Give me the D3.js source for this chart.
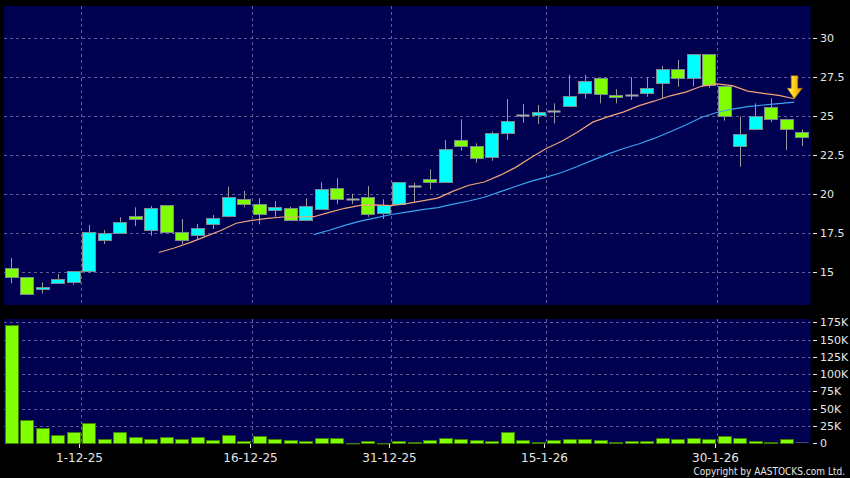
<!DOCTYPE html>
<html><head><meta charset="utf-8">
<script src="https://cdn.jsdelivr.net/npm/d3@7"></script>
<style>html,body{margin:0;padding:0;background:#000;}svg{display:block}</style>
</head><body><svg id="c" width="850" height="478"></svg>
<script>
// ---- data ----
const dates = [
  "2025-11-24","2025-11-25","2025-11-26","2025-11-27","2025-11-28",
  "2025-12-01","2025-12-02","2025-12-03","2025-12-04","2025-12-05",
  "2025-12-08","2025-12-09","2025-12-10","2025-12-11","2025-12-12",
  "2025-12-15","2025-12-16","2025-12-17","2025-12-18","2025-12-19",
  "2025-12-22","2025-12-23","2025-12-24","2025-12-29","2025-12-30","2025-12-31",
  "2026-01-02","2026-01-05","2026-01-06","2026-01-07","2026-01-08","2026-01-09",
  "2026-01-12","2026-01-13","2026-01-14","2026-01-15","2026-01-16",
  "2026-01-19","2026-01-20","2026-01-21","2026-01-22","2026-01-23",
  "2026-01-26","2026-01-27","2026-01-28","2026-01-29","2026-01-30",
  "2026-02-02","2026-02-03","2026-02-04","2026-02-05","2026-02-06"];
const open  = [15.22,14.64,13.88,14.26,14.32,15.03,17.02,17.46,18.58,17.63,19.26,17.53,17.34,18.04,18.53,19.65,19.33,18.92,19.11,18.36,19.02,20.35,19.67,19.81,18.75,19.30,20.52,20.93,20.74,23.45,23.09,22.34,23.88,25.06,25.01,25.33,25.65,26.51,27.41,26.34,26.36,26.51,27.09,27.99,27.41,28.95,26.94,23.02,24.20,25.59,24.82,23.99];
const high  = [15.88,14.64,14.32,14.85,15.03,18.00,17.67,18.49,19.13,19.22,19.26,18.38,18.06,18.64,20.46,20.18,19.71,19.54,19.17,19.71,20.74,21.00,20.00,20.50,19.65,20.74,20.71,21.57,23.45,24.78,23.24,23.99,26.08,25.76,25.70,25.81,27.63,27.63,27.41,26.71,27.48,27.48,28.20,28.59,28.95,28.95,26.94,24.95,25.81,26.13,24.82,24.14];
const low   = [14.26,13.55,13.61,14.26,14.17,14.94,16.78,17.46,17.93,17.31,17.45,16.78,17.08,17.74,18.49,19.13,18.04,18.53,18.27,18.27,18.96,19.33,19.35,18.53,18.38,19.30,19.49,20.29,20.70,22.77,22.00,22.12,23.45,24.56,24.48,24.52,25.65,26.10,25.81,25.81,26.02,26.23,26.13,26.87,26.90,26.81,24.69,21.74,24.20,24.59,22.81,23.07];
const close = [14.64,13.55,14.00,14.53,15.03,17.53,17.46,18.17,18.36,19.07,17.50,17.02,17.79,18.43,19.78,19.33,18.70,19.13,18.36,19.24,20.29,19.65,19.67,18.75,19.28,20.74,20.52,20.74,22.86,23.09,22.34,23.88,24.65,25.06,25.23,25.33,26.28,27.26,26.39,26.19,26.36,26.81,27.99,27.41,28.95,26.98,25.01,23.82,25.01,24.85,24.16,23.69];
const volume = [171000,33700,22000,11600,16400,29800,5800,16400,9100,6200,8700,6200,9600,4800,12000,3300,10100,6200,4800,3800,7700,7700,500,3300,1000,3300,1500,4800,7200,6700,4800,3800,15900,4300,2400,4800,6200,6200,4800,1900,3300,2900,7700,6200,8200,6200,10100,7700,2900,1900,5800,0];
// 10-day average line, first point at the boundary before "2025-12-08"
const ma10Start = 10;
const ma10 = [16.23,16.52,16.87,17.25,17.64,18.11,18.29,18.42,18.51,18.51,18.53,18.81,19.07,19.26,19.29,19.24,19.37,19.55,19.72,20.17,20.55,20.76,21.18,21.68,22.31,22.91,23.37,23.95,24.60,24.95,25.26,25.66,25.96,26.29,26.53,26.90,27.06,26.94,26.59,26.45,26.32,26.10];
// 20-day average line, first point at the boundary before "2025-12-22"
const ma20Start = 20;
const ma20 = [17.38,17.66,17.97,18.25,18.46,18.67,18.83,18.99,19.11,19.34,19.54,19.78,20.12,20.47,20.80,21.07,21.37,21.75,22.16,22.56,22.91,23.21,23.57,23.98,24.42,24.90,25.22,25.44,25.60,25.70,25.79,25.88];
const priceTicks = [15,17.5,20,22.5,25,27.5,30];
const volTicks = [0,25000,50000,75000,100000,125000,150000,175000];
const dateTicks = ["2025-12-01","2025-12-16","2025-12-31","2026-01-15","2026-01-30"];

// ---- layout ----
const svg = d3.select("#c");
const PL = 4, PR = 810.7, pTop = 6, pBot = 305, vTop = 319, vBot = 443.3;
const NAVY = "#000050", GRID = "#5c5c96", TXT = "#e6e6e6";
const CYAN = "#00ffff", LIME = "#80ff00";

const x = d3.scaleBand().domain(dates).range([3.75, 809.75]).padding(0);
const y = d3.scaleLinear().domain([12.863, 32.054]).range([pBot, pTop]);
const yv = d3.scaleLinear().domain([0, 180000]).range([vBot, 318.9]);
const cx = d => x(d) + x.bandwidth() / 2;
const bw = 13;
const bx = d => Math.floor(cx(d) - bw / 2) + 0.5;
const wx = d => Math.floor(cx(d)) + 0.5;

svg.append("rect").attr("width", 850).attr("height", 478).attr("fill", "#000");
svg.append("rect").attr("x", PL).attr("y", pTop).attr("width", PR - PL).attr("height", pBot - pTop).attr("fill", NAVY);
svg.append("rect").attr("x", PL).attr("y", vTop).attr("width", PR - PL).attr("height", vBot - vTop).attr("fill", NAVY);

const defs = svg.append("defs");
defs.append("clipPath").attr("id", "cp").append("rect").attr("x", PL).attr("y", pTop).attr("width", PR - PL).attr("height", pBot - pTop);
defs.append("clipPath").attr("id", "cv").append("rect").attr("x", PL).attr("y", vTop).attr("width", PR - PL).attr("height", vBot - vTop + 1);
const grad = defs.append("linearGradient").attr("id", "ag").attr("x1", "0").attr("x2", "1").attr("y1", "0").attr("y2", "0");
grad.append("stop").attr("offset", "0").attr("stop-color", "#fff27a");
grad.append("stop").attr("offset", "0.45").attr("stop-color", "#ffd21a");
grad.append("stop").attr("offset", "1").attr("stop-color", "#d98f00");

// gridlines
const g = svg.append("g").attr("stroke", GRID).attr("stroke-dasharray", "3,3").attr("stroke-width", 1);
priceTicks.forEach(t => {
  const yy = Math.round(y(t)) + 0.5;
  g.append("line").attr("x1", PL).attr("x2", PR).attr("y1", yy).attr("y2", yy);
});
volTicks.slice(1).forEach(t => {
  const yy = Math.round(yv(t)) + 0.5;
  g.append("line").attr("x1", PL).attr("x2", PR).attr("y1", yy).attr("y2", yy);
});
dateTicks.forEach(d => {
  const xx = Math.round(x(d)) + 0.5;
  g.append("line").attr("x1", xx).attr("x2", xx).attr("y1", pTop).attr("y2", pBot);
  g.append("line").attr("x1", xx).attr("x2", xx).attr("y1", vTop).attr("y2", vBot);
});

// candles
const idx = d3.range(dates.length);
const cg = svg.append("g").attr("clip-path", "url(#cp)");
idx.forEach(i => {
  const d = dates[i], o = open[i], c = close[i];
  cg.append("line").attr("x1", wx(d)).attr("x2", wx(d))
    .attr("y1", y(high[i])).attr("y2", y(low[i]))
    .attr("stroke", "#9a9a9a").attr("stroke-width", 1);
  if (o === c) {
    const yy = Math.round(y(c)) + 0.5;
    cg.append("line").attr("x1", bx(d)).attr("x2", bx(d) + bw).attr("y1", yy).attr("y2", yy)
      .attr("stroke", "#a8a8a8").attr("stroke-width", 2);
  } else {
    const top = y(Math.max(o, c)), bot = y(Math.min(o, c));
    cg.append("rect").attr("x", bx(d)).attr("width", bw)
      .attr("y", Math.round(top) + 0.5).attr("height", Math.max(2, Math.round(bot - top)))
      .attr("fill", c > o ? CYAN : LIME)
      .attr("stroke", "#7a8c8c").attr("stroke-width", 1);
  }
});

// moving averages (drawn at slot boundaries)
const line = d3.line().x(d => d[0]).y(d => y(d[1]));
cg.append("path").attr("d", line(ma10.map((v, k) => [x(dates[ma10Start + k]), v])))
  .attr("fill", "none").attr("stroke", "#f0a27a").attr("stroke-width", 1.2);
cg.append("path").attr("d", line(ma20.map((v, k) => [x(dates[ma20Start + k]), v])))
  .attr("fill", "none").attr("stroke", "#3aa4f0").attr("stroke-width", 1.2);

// arrow marker at last MA10 point
const ax = x(dates[ma10Start + ma10.length - 1]), ay = y(ma10[ma10.length - 1]);
svg.append("path")
  .attr("d", `M${ax-3},${ay-23} L${ax+3.5},${ay-23} L${ax+3.5},${ay-10.5} L${ax+8},${ay-10.5} L${ax},${ay} L${ax-7},${ay-10.5} L${ax-3},${ay-10.5} Z`)
  .attr("fill", "url(#ag)").attr("stroke", "#b07000").attr("stroke-width", 0.6);

// volume
const vg = svg.append("g").attr("clip-path", "url(#cv)");
idx.forEach(i => {
  const d = dates[i];
  const top = Math.round(yv(volume[i]));
  const h = Math.max(1, Math.round(vBot) - top);
  vg.append("rect").attr("x", bx(d)).attr("width", bw)
    .attr("y", volume[i] > 0 ? top + 0.5 : Math.round(vBot) - 1).attr("height", volume[i] > 0 ? h : 1)
    .attr("fill", volume[i] > 0 ? LIME : "#4a4a7a")
    .attr("stroke", volume[i] > 0 ? "#3f8000" : "none").attr("stroke-width", 1);
});

// right axes
const ax1 = svg.append("g").attr("font-family", "DejaVu Sans").attr("font-size", 11).attr("fill", TXT);
priceTicks.forEach(t => {
  const yy = Math.round(y(t)) + 0.5;
  ax1.append("line").attr("x1", 813).attr("x2", 817).attr("y1", yy).attr("y2", yy).attr("stroke", TXT);
  ax1.append("text").attr("x", 820).attr("y", yy).attr("dy", "0.36em").text(d3.format("~g")(t));
});
volTicks.forEach(t => {
  const yy = Math.round(yv(t)) + 0.5;
  ax1.append("line").attr("x1", 813).attr("x2", 817).attr("y1", yy).attr("y2", yy).attr("stroke", TXT);
  ax1.append("text").attr("x", 820).attr("y", yy).attr("dy", "0.36em").text(t === 0 ? "0" : (t / 1000) + "K");
});

// date axis
const fmt = s => { const p = s.split("-"); return (+p[2]) + "-" + (+p[1]) + "-" + p[0].slice(2); };
const ax2 = svg.append("g").attr("font-family", "DejaVu Sans").attr("font-size", 12).attr("fill", TXT);
dateTicks.forEach(d => {
  const xx = Math.round(x(d)) - 1.5;
  ax2.append("line").attr("x1", xx).attr("x2", xx).attr("y1", 444).attr("y2", 448).attr("stroke", TXT);
  ax2.append("text").attr("x", xx).attr("y", 461.5).attr("text-anchor", "middle").text(fmt(d));
});

svg.append("text").attr("x", 845).attr("y", 474.5).attr("text-anchor", "end")
  .attr("font-family", "DejaVu Sans Condensed, DejaVu Sans").attr("font-size", 10).attr("fill", TXT)
  .text("Copyright by AASTOCKS.com Ltd.");
</script></body></html>
